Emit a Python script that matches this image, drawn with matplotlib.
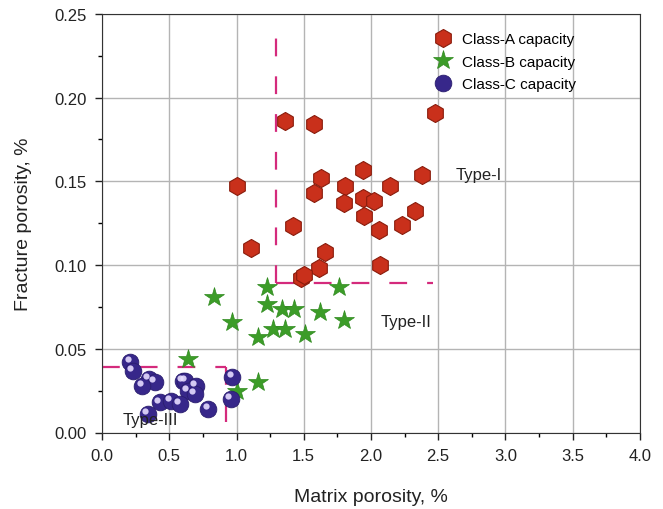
import matplotlib
matplotlib.use("Agg")
import matplotlib.pyplot as plt
import matplotlib.transforms as mtransforms
from matplotlib.ticker import MultipleLocator

plt.rcParams["font.family"] = ["Liberation Sans", "DejaVu Sans"]

# Class-A capacity (matrix porosity %, fracture porosity %)
a_x = [1.36, 1.58, 2.48, 1.00, 1.63, 1.94, 2.38, 1.81, 2.14, 1.58, 1.94, 2.02,
       1.80, 2.33, 1.95, 1.42, 2.23, 2.06, 1.11, 1.66, 1.61, 2.07, 1.48, 1.50]
a_y = [0.186, 0.184, 0.191, 0.147, 0.152, 0.157, 0.154, 0.147, 0.147, 0.143,
       0.140, 0.138, 0.137, 0.132, 0.129, 0.123, 0.124, 0.121, 0.110, 0.108,
       0.098, 0.100, 0.092, 0.094]

# Class-B capacity
b_x = [0.83, 1.23, 1.76, 1.23, 1.34, 1.43, 1.62, 1.80, 0.97, 1.27, 1.36,
       1.51, 1.16, 0.64, 1.16, 1.00]
b_y = [0.081, 0.087, 0.087, 0.077, 0.074, 0.074, 0.072, 0.067, 0.066, 0.062,
       0.062, 0.059, 0.057, 0.044, 0.030, 0.025]

# Class-C capacity
c_x = [0.21, 0.23, 0.35, 0.39, 0.30, 0.60, 0.62, 0.70, 0.64, 0.69, 0.97,
       0.96, 0.43, 0.51, 0.58, 0.79, 0.34]
c_y = [0.042, 0.037, 0.032, 0.030, 0.028, 0.031, 0.031, 0.028, 0.025, 0.023,
       0.033, 0.020, 0.018, 0.019, 0.017, 0.014, 0.011]

# boundary lines between types (each leg drawn from the corner)
bound_segs = [
    ([1.29, 1.29], [0.089, 0.243]),
    ([1.29, 2.46], [0.089, 0.089]),
    ([0.0, 0.92], [0.039, 0.039]),
    ([0.92, 0.92], [0.039, 0.006]),
]

fig = plt.figure(figsize=(6.63, 5.10), dpi=100)
ax = fig.add_axes([0.154, 0.150, 0.811, 0.821])

ax.set_xlim(0, 4.0)
ax.set_ylim(0, 0.25)
ax.xaxis.set_major_locator(MultipleLocator(0.5))
ax.xaxis.set_minor_locator(MultipleLocator(0.25))
ax.yaxis.set_major_locator(MultipleLocator(0.05))
ax.yaxis.set_minor_locator(MultipleLocator(0.025))
ax.xaxis.set_major_formatter(plt.FormatStrFormatter("%.1f"))
ax.yaxis.set_major_formatter(plt.FormatStrFormatter("%.2f"))
ax.tick_params(which="major", direction="out", length=5, width=1, labelsize=12,
               colors="#222222", pad=6)
ax.tick_params(which="minor", direction="out", length=3, width=1)
ax.grid(which="major", color="#b4b4b4", lw=1)
ax.set_axisbelow(True)
for s in ax.spines.values():
    s.set_color("#333333")

dash_col = "#d42a7c"
for sx, sy in bound_segs:
    ax.plot(sx, sy, color=dash_col, lw=1.6, dashes=(8, 9), zorder=2)

ax.plot(a_x, a_y, ls="none", marker="h", ms=13, mfc="#c9301b", mec="#8a1c0c",
        mew=0.8, label="Class-A capacity", zorder=3)
ax.plot(b_x, b_y, ls="none", marker="*", ms=15, mfc="#3c9c28", mec="#2f8a1e",
        mew=0.5, label="Class-B capacity", zorder=3)
ax.plot(c_x, c_y, ls="none", marker="o", ms=12, mfc="#37278a", mec="#2a1d6e",
        mew=0.6, label="Class-C capacity", zorder=3)
# glossy highlight on the spheres
shine = mtransforms.offset_copy(ax.transData, fig=fig, x=-2, y=2, units="points")
ax.plot(c_x, c_y, ls="none", marker="o", ms=4.5, mfc="#e6dcff", mec="none",
        alpha=0.9, transform=shine, zorder=4)

ax.text(2.63, 0.154, "Type-I", fontsize=12, color="#222222", va="center", zorder=5)
ax.text(2.07, 0.066, "Type-II", fontsize=12, color="#222222", va="center", zorder=5)
ax.text(0.15, 0.008, "Type-III", fontsize=12, color="#222222", va="center", zorder=5)

ax.set_xlabel("Matrix porosity, %", fontsize=14, color="#222222", labelpad=18)
ax.set_ylabel("Fracture porosity, %", fontsize=14, color="#222222", labelpad=16)

ax.legend(loc="upper right", bbox_to_anchor=(0.905, 0.985), frameon=False,
          fontsize=11, handletextpad=0.3, labelspacing=0.55, borderaxespad=0.4)

fig.savefig("out.png", dpi=100)
